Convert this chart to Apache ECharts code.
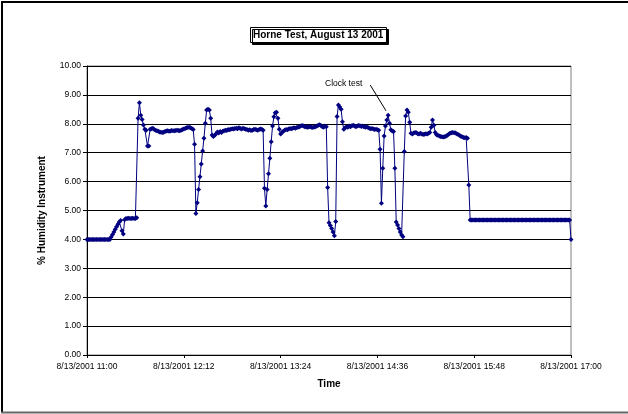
<!DOCTYPE html>
<html><head><meta charset="utf-8">
<script src="https://cdn.jsdelivr.net/npm/echarts@6/dist/echarts.min.js"></script>
<style>html,body{margin:0;padding:0;background:#fff}#c{width:628px;height:414px}</style>
</head><body><div id="c"></div>
<script>
const chartTitle = 'Horne Test, August 13 2001';
const xAxisTitle = 'Time';
const yAxisTitle = '% Humidity Instrument';
const tickLabels = ['8/13/2001 11:00', '8/13/2001 12:12', '8/13/2001 13:24', '8/13/2001 14:36', '8/13/2001 15:48', '8/13/2001 17:00'];
const tickMinutes = [0, 72, 144, 216, 288, 360];
const sampleStepMinutes = 1;
const humidity = [
  4.00, 4.00, 4.00, 4.00, 4.00, 4.00, 4.00, 4.00, 4.00, 4.00,
  4.00, 4.00, 4.00, 4.00, 4.00, 4.00, 4.00, 4.00, 4.08, 4.17,
  4.26, 4.35, 4.44, 4.52, 4.60, 4.65, 4.30, 4.19, 4.68, 4.72,
  4.72, 4.73, 4.72, 4.72, 4.73, 4.72, 4.72, 4.75, 8.19, 8.73,
  8.30, 8.15, 7.96, 7.81, 7.78, 7.23, 7.23, 7.81, 7.83, 7.85,
  7.80, 7.78, 7.76, 7.74, 7.72, 7.71, 7.70, 7.71, 7.73, 7.75,
  7.76, 7.74, 7.75, 7.77, 7.76, 7.76, 7.77, 7.78, 7.77, 7.76,
  7.78, 7.80, 7.82, 7.84, 7.86, 7.87, 7.88, 7.86, 7.84, 7.80,
  7.29, 4.90, 5.27, 5.73, 6.17, 6.61, 7.06, 7.50, 8.02, 8.48,
  8.50, 8.48, 8.19, 7.61, 7.56, 7.60, 7.66, 7.72, 7.68, 7.73,
  7.70, 7.74, 7.76, 7.78, 7.77, 7.80, 7.79, 7.81, 7.83, 7.82,
  7.84, 7.85, 7.83, 7.86, 7.84, 7.82, 7.85, 7.83, 7.81, 7.80,
  7.78, 7.79, 7.77, 7.78, 7.80, 7.81, 7.79, 7.78, 7.80, 7.82,
  7.81, 7.78, 5.77, 5.16, 5.73, 6.27, 6.81, 7.38, 7.92, 8.24,
  8.38, 8.40, 8.19, 7.81, 7.65, 7.70, 7.74, 7.78, 7.80, 7.79,
  7.82, 7.84, 7.83, 7.85, 7.86, 7.85, 7.87, 7.88, 7.90, 7.92,
  7.94, 7.92, 7.90, 7.89, 7.88, 7.89, 7.90, 7.88, 7.87, 7.89,
  7.90, 7.92, 7.95, 7.97, 7.94, 7.90, 7.88, 7.92, 7.90, 5.80,
  4.58, 4.48, 4.38, 4.26, 4.13, 4.62, 8.25, 8.65, 8.58, 8.50,
  8.07, 7.81, 7.86, 7.90, 7.88, 7.92, 7.90, 7.93, 7.95, 7.92,
  7.90, 7.92, 7.94, 7.93, 7.91, 7.92, 7.90, 7.88, 7.90, 7.87,
  7.85, 7.83, 7.84, 7.82, 7.80, 7.81, 7.79, 7.78, 7.12, 5.25,
  6.46, 7.58, 7.92, 8.13, 8.30, 8.02, 7.79, 7.75, 7.73, 6.46,
  4.60, 4.50, 4.38, 4.26, 4.15, 4.09, 7.04, 8.27, 8.48, 8.40,
  8.05, 7.67, 7.65, 7.68, 7.70, 7.69, 7.66, 7.65, 7.67, 7.65,
  7.63, 7.64, 7.66, 7.65, 7.67, 7.70, 7.88, 8.13, 7.95, 7.70,
  7.62, 7.60, 7.58, 7.56, 7.55, 7.54, 7.55, 7.57, 7.60, 7.64,
  7.67, 7.69, 7.70, 7.69, 7.68, 7.66, 7.63, 7.60, 7.57, 7.55,
  7.53, 7.52, 7.53, 7.50, 5.88, 4.67, 4.67, 4.67, 4.67, 4.67,
  4.67, 4.67, 4.67, 4.67, 4.67, 4.67, 4.67, 4.67, 4.67, 4.67,
  4.67, 4.67, 4.67, 4.67, 4.67, 4.67, 4.67, 4.67, 4.67, 4.67,
  4.67, 4.67, 4.67, 4.67, 4.67, 4.67, 4.67, 4.67, 4.67, 4.67,
  4.67, 4.67, 4.67, 4.67, 4.67, 4.67, 4.67, 4.67, 4.67, 4.67,
  4.67, 4.67, 4.67, 4.67, 4.67, 4.67, 4.67, 4.67, 4.67, 4.67,
  4.67, 4.67, 4.67, 4.67, 4.67, 4.67, 4.67, 4.67, 4.67, 4.67,
  4.67, 4.67, 4.67, 4.67, 4.67, 4.67, 4.67, 4.67, 4.67, 4.67,
  4.00
];
const clockTestText = 'Clock test';
const clockTestArrowFrom = [210.7, 9.34];
const clockTestArrowTo = [222.4, 8.45];

const FONT = '"Liberation Sans", Arial, sans-serif';
const chart = echarts.init(document.getElementById('c'), null, {renderer: 'canvas'});
const seriesData = humidity.map((v, i) => [i * sampleStepMinutes, v]);

chart.setOption({
  animation: false,
  backgroundColor: '#fff',
  textStyle: {fontFamily: FONT},
  title: {
    text: chartTitle,
    left: 250, top: 27,
    padding: [2, 3, 2, 3],
    backgroundColor: '#fff',
    borderColor: '#000', borderWidth: 1,
    shadowColor: '#000', shadowBlur: 0, shadowOffsetX: 2, shadowOffsetY: 2,
    textStyle: {fontFamily: FONT, fontSize: 10, fontWeight: 'bold', color: '#000', lineHeight: 12}
  },
  grid: {
    left: 87, right: 57, top: 66, bottom: 59,
    show: true, borderColor: '#808080', borderWidth: 1, backgroundColor: '#fff',
    containLabel: false
  },
  xAxis: {
    type: 'value', min: 0, max: 360, interval: 72,
    name: xAxisTitle, nameLocation: 'middle', nameGap: 24,
    nameTextStyle: {fontFamily: FONT, fontSize: 10, fontWeight: 'bold', color: '#000'},
    axisLine: {show: true, lineStyle: {color: '#000', width: 1}},
    axisTick: {show: true, inside: false, length: 3, lineStyle: {color: '#000'}},
    axisLabel: {
      fontFamily: FONT, fontSize: 8.5, color: '#000', margin: 7,
      showMinLabel: true, showMaxLabel: true,
      formatter: v => { const i = tickMinutes.indexOf(v); return i >= 0 ? tickLabels[i] : ''; }
    },
    splitLine: {show: false}
  },
  yAxis: {
    type: 'value', min: 0, max: 10, interval: 1,
    name: yAxisTitle, nameLocation: 'middle', nameGap: 40, nameRotate: 90,
    nameTextStyle: {fontFamily: FONT, fontSize: 10, fontWeight: 'bold', color: '#000'},
    axisLine: {show: true, lineStyle: {color: '#000', width: 1}},
    axisTick: {show: true, inside: false, length: 4, lineStyle: {color: '#000'}},
    axisLabel: {fontFamily: FONT, fontSize: 8.5, color: '#000', margin: 6, formatter: v => v.toFixed(2)},
    splitLine: {show: true, lineStyle: {color: '#000', width: 1}}
  },
  series: [{
    type: 'line',
    data: seriesData,
    symbol: 'diamond', symbolSize: 5, showAllSymbol: true,
    itemStyle: {color: '#000080'},
    lineStyle: {color: '#000080', width: 1},
    silent: true,
    markLine: {
      silent: true,
      symbol: ['none', 'arrow'], symbolSize: [0, 6],
      lineStyle: {color: '#000', width: 1, type: 'solid'},
      label: {show: false},
      data: [[{coord: clockTestArrowFrom}, {coord: clockTestArrowTo}]]
    }
  }],
  graphic: [
    {type: 'text', left: 325, top: 79, style: {text: clockTestText, font: '8.5px ' + FONT, fill: '#000'}},
    {type: 'line', shape: {x1: 2, y1: 2, x2: 2, y2: 413}, style: {stroke: '#000', lineWidth: 2}},
    {type: 'line', shape: {x1: 1, y1: 2, x2: 628, y2: 2}, style: {stroke: '#000', lineWidth: 2}},
    {type: 'line', shape: {x1: 1, y1: 412.5, x2: 628, y2: 412.5}, style: {stroke: '#666', lineWidth: 2}}
  ]
});
</script></body></html>
